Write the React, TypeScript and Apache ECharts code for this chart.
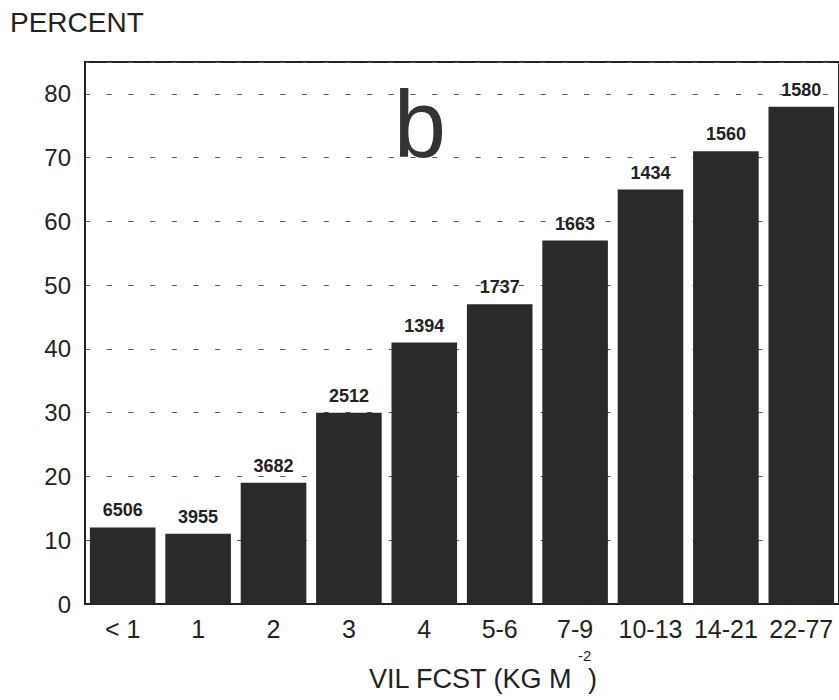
import React, { useEffect, useRef } from "react";
import * as echarts from "echarts";

// VIL forecast bins
const categories = ["< 1", "1", "2", "3", "4", "5-6", "7-9", "10-13", "14-21", "22-77"];
// Percent for each bin
const percentValues = [12, 11, 19, 30, 41, 47, 57, 65, 71, 78];
// Sample counts printed above each bar
const sampleCounts = [6506, 3955, 3682, 2512, 1394, 1737, 1663, 1434, 1560, 1580];
// Y axis ticks
const yTicks = [0, 10, 20, 30, 40, 50, 60, 70, 80];

const FONT = "'Liberation Sans', Arial, Helvetica, sans-serif";
const INK = "#222";

export default function App() {
  const ref = useRef<HTMLDivElement>(null);

  useEffect(() => {
    if (!ref.current) return;
    const chart = echarts.init(ref.current, undefined, { renderer: "svg" });
    chart.setOption({
      animation: false,
      backgroundColor: "#fff",
      textStyle: { fontFamily: FONT },
      grid: {
        left: 85,
        top: 62,
        width: 756,
        height: 542,
        show: true,
        borderColor: INK,
        borderWidth: 2,
        backgroundColor: "transparent",
      },
      xAxis: {
        type: "category",
        data: categories,
        axisLine: { show: true, lineStyle: { color: INK, width: 2 } },
        axisTick: { show: false },
        axisLabel: {
          color: INK,
          fontSize: 25,
          fontFamily: FONT,
          margin: 12,
          interval: 0,
        },
      },
      yAxis: [
        {
          type: "value",
          min: 0,
          max: 85,
          interval: 10,
          axisLine: { show: true, lineStyle: { color: INK, width: 2 } },
          axisTick: { show: false },
          axisLabel: {
            color: INK,
            fontSize: 24,
            fontFamily: FONT,
            margin: 14,
            formatter: (v: number) => (yTicks.includes(v) ? String(v) : ""),
          },
          splitLine: {
            show: true,
            lineStyle: { color: "#555", width: 1, type: [5, 16.7] },
          },
        },
      ],
      series: [
        {
          type: "bar",
          data: percentValues,
          barCategoryGap: "13%",
          itemStyle: { color: "#2a2a2a" },
          label: {
            show: true,
            position: "top",
            distance: 8,
            color: INK,
            fontSize: 18,
            fontWeight: "bold",
            fontFamily: FONT,
            formatter: (p: any) => String(sampleCounts[p.dataIndex]),
          },
        },
      ],
      graphic: [
        {
          type: "text",
          left: 10,
          top: 8,
          style: { text: "PERCENT", fontSize: 28, fill: INK, fontFamily: FONT },
        },
        {
          type: "text",
          x: 420,
          y: 171,
          style: {
            text: "b",
            fontSize: 94,
            fill: "#333",
            fontFamily: FONT,
            textAlign: "center",
            textVerticalAlign: "bottom",
          },
        },
        {
          type: "text",
          x: 369,
          y: 692,
          style: {
            text: "VIL FCST (KG M",
            fontSize: 27,
            fill: INK,
            fontFamily: FONT,
            textAlign: "left",
            textVerticalAlign: "bottom",
          },
        },
        {
          type: "text",
          x: 578,
          y: 663,
          style: {
            text: "-2",
            fontSize: 15,
            fill: INK,
            fontFamily: FONT,
            textAlign: "left",
            textVerticalAlign: "bottom",
          },
        },
        {
          type: "text",
          x: 588,
          y: 692,
          style: {
            text: ")",
            fontSize: 27,
            fill: INK,
            fontFamily: FONT,
            textAlign: "left",
            textVerticalAlign: "bottom",
          },
        },
      ],
    });
    return () => chart.dispose();
  }, []);

  return (
    <div
      ref={ref}
      style={{ position: "fixed", left: 0, top: 0, width: 839, height: 700, background: "#fff" }}
    />
  );
}
